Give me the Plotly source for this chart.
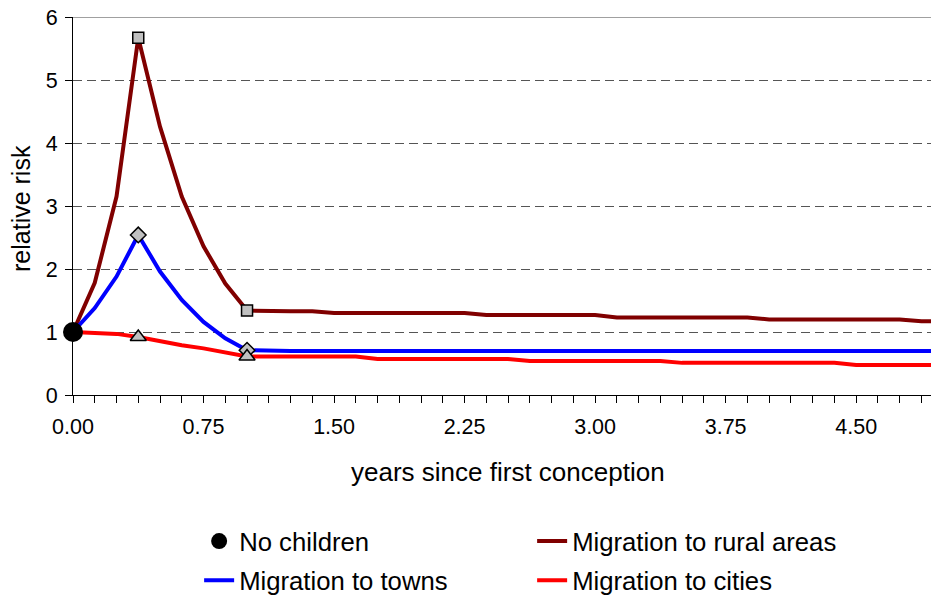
import plotly.graph_objects as go

years = [0.0, 0.125, 0.25, 0.375, 0.5, 0.625, 0.75, 0.875, 1.0,
         1.125, 1.25, 1.375, 1.5, 1.625, 1.75, 1.875, 2.0,
         2.125, 2.25, 2.375, 2.5, 2.625, 2.75, 2.875, 3.0,
         3.125, 3.25, 3.375, 3.5, 3.625, 3.75, 3.875, 4.0,
         4.125, 4.25, 4.375, 4.5, 4.625, 4.75, 4.875, 5.0]

rural = [1.00, 1.78, 3.15, 5.67, 4.26, 3.15, 2.36, 1.77, 1.34,
         1.33, 1.33, 1.33, 1.30, 1.30, 1.30, 1.30, 1.30,
         1.30, 1.30, 1.27, 1.27, 1.27, 1.27, 1.27, 1.27,
         1.23, 1.23, 1.23, 1.23, 1.23, 1.23, 1.23, 1.20,
         1.20, 1.20, 1.20, 1.20, 1.20, 1.20, 1.17, 1.17]

towns = [1.00, 1.38, 1.88, 2.54, 1.96, 1.51, 1.16, 0.90, 0.71,
         0.70, 0.70, 0.70, 0.70, 0.70, 0.70, 0.70, 0.70,
         0.70, 0.70, 0.70, 0.70, 0.70, 0.70, 0.70, 0.70,
         0.70, 0.70, 0.70, 0.70, 0.70, 0.70, 0.70, 0.70,
         0.70, 0.70, 0.70, 0.70, 0.70, 0.70, 0.70, 0.70]

cities = [1.00, 0.99, 0.97, 0.92, 0.85, 0.79, 0.74, 0.67, 0.61,
          0.61, 0.61, 0.61, 0.61, 0.61, 0.57, 0.57, 0.57,
          0.57, 0.57, 0.57, 0.57, 0.54, 0.54, 0.54, 0.54,
          0.54, 0.54, 0.54, 0.51, 0.51, 0.51, 0.51, 0.51,
          0.51, 0.51, 0.51, 0.475, 0.475, 0.475, 0.475, 0.475]

no_children_x = [0.0]
no_children_y = [1.0]

marked_idx = [3, 8]

tick_vals = [0.0, 0.75, 1.5, 2.25, 3.0, 3.75, 4.5]
tick_text = ["0.00", "0.75", "1.50", "2.25", "3.00", "3.75", "4.50"]

x_title = "years since first conception"
y_title = "relative risk"

FONT = "Liberation Sans, Arial, sans-serif"

fig = go.Figure()

series = [
    ("Migration to rural areas", rural, "#800000", "square", 11, "legend"),
    ("Migration to towns", towns, "#0000FF", "diamond", 12, "legend2"),
    ("Migration to cities", cities, "#FF0000", "triangle-up", 14, "legend2"),
]

for name, vals, color, sym, msize, lg in series:
    fig.add_trace(go.Scatter(
        x=years, y=vals, mode="lines", name=name,
        line=dict(color=color, width=4), legend=lg,
    ))

for name, vals, color, sym, msize, lg in series:
    fig.add_trace(go.Scatter(
        x=[years[i] for i in marked_idx], y=[vals[i] for i in marked_idx],
        mode="markers", showlegend=False, hoverinfo="skip",
        marker=dict(symbol=sym, size=msize, color="#C0C0C0",
                    line=dict(color="black", width=1.5)),
        cliponaxis=False,
    ))

fig.add_trace(go.Scatter(
    x=no_children_x, y=no_children_y, mode="markers", name="No children",
    marker=dict(color="black", size=20), legend="legend", legendrank=1,
    cliponaxis=False,
))
fig.data[0].legendrank = 2

fig.add_shape(type="line", xref="paper", yref="y", x0=0, x1=1, y0=6, y1=6,
              line=dict(color="#808080", width=1.5))

PLOT_H = 378.0
PLOT_W = 858.0

fig.add_annotation(text=x_title, xref="paper", yref="paper",
                   x=(508 - 73) / PLOT_W, y=(395 - 472) / PLOT_H,
                   xanchor="center", yanchor="middle", showarrow=False,
                   font=dict(size=26, family=FONT, color="black"))
fig.add_annotation(text=y_title, xref="paper", yref="paper",
                   x=(21 - 73) / PLOT_W, y=(395 - 209) / PLOT_H,
                   xanchor="center", yanchor="middle", showarrow=False,
                   textangle=-90,
                   font=dict(size=25, family=FONT, color="black"))

legend_common = dict(
    orientation="h", xanchor="left", yanchor="top",
    font=dict(size=25.7, family=FONT), entrywidth=288, entrywidthmode="pixels",
    bgcolor="rgba(0,0,0,0)",
)

fig.update_layout(
    width=931, height=601,
    margin=dict(l=73, r=0, t=17, b=206, autoexpand=False),
    paper_bgcolor="white", plot_bgcolor="white",
    font=dict(family=FONT, color="black", size=21.5),
    showlegend=True,
    legend=dict(x=0.147, y=-0.325, **legend_common),
    legend2=dict(x=0.147, y=-0.4286, **legend_common),
    xaxis=dict(
        range=[0, 4.93], showline=True, linecolor="black", linewidth=1,
        ticks="outside", ticklen=7, tickcolor="black",
        tickmode="array", tickvals=tick_vals, ticktext=tick_text,
        tickfont=dict(size=21.5), ticklabelstandoff=5,
        minor=dict(tickmode="linear", tick0=0, dtick=0.125, ticks="outside",
                   ticklen=7, tickcolor="black", showgrid=False),
        showgrid=False, zeroline=False, automargin=False,
    ),
    yaxis=dict(
        range=[0, 6], dtick=1, showline=True, linecolor="black", linewidth=1,
        ticks="outside", ticklen=7, tickcolor="black",
        tickfont=dict(size=21.5), ticklabelstandoff=3,
        ticklabeloverflow="allow",
        showgrid=True, gridcolor="#555555", gridwidth=1, griddash="9px,5px",
        zeroline=False, automargin=False,
    ),
)

# remove the browser's default 8px body margin so the figure sits at the page origin
fig.write_html("out.html", config={"displayModeBar": False},
               post_script="document.body.style.margin='0px';")
